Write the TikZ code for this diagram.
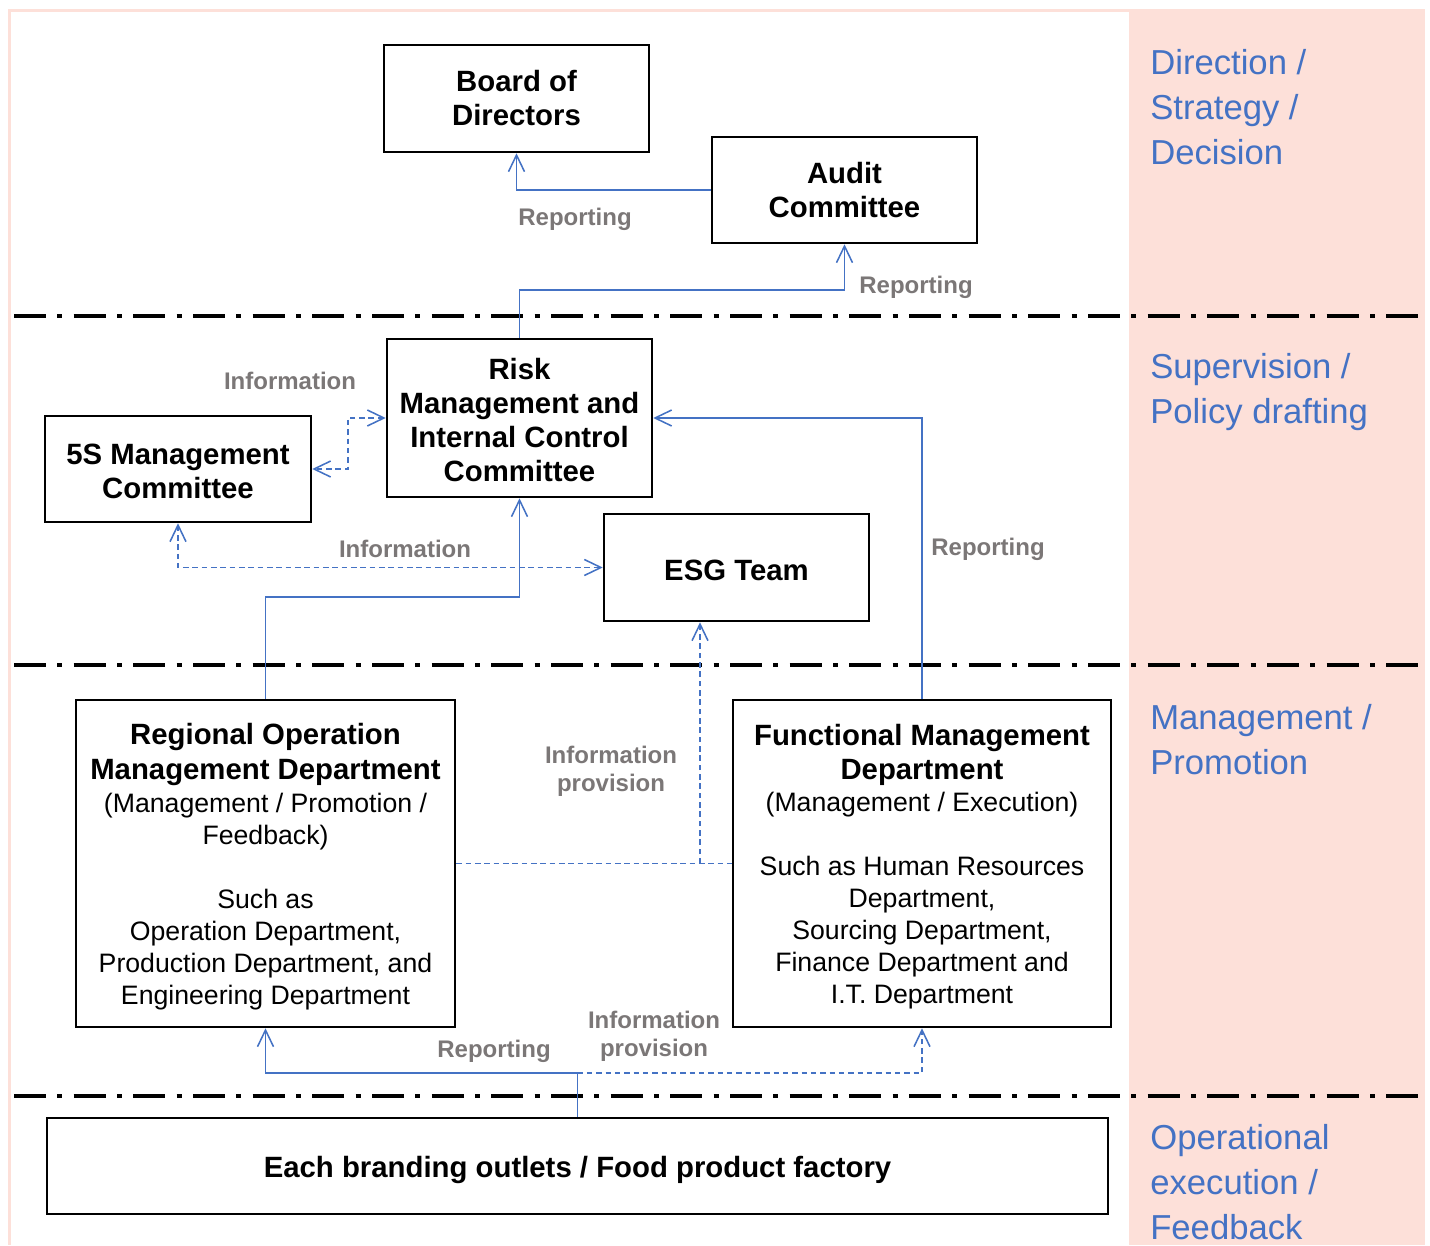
\documentclass[tikz,border=0pt]{standalone}
\usepackage{fontspec}
\setmainfont{Liberation Sans}
\usetikzlibrary{arrows.meta}
\definecolor{cblue}{HTML}{4472C4}
\definecolor{cpink}{HTML}{FDE0D9}
\definecolor{cgray}{HTML}{7B7777}
\begin{document}
\begin{tikzpicture}[x=0.75pt,y=-0.75pt,
  box/.style={draw=black, line width=1.9pt, fill=white, align=center, inner sep=0pt,
    font=\fontsize{22}{25.5}\selectfont\bfseries},
  bigbox/.style={draw=black, line width=1.9pt, fill=white, align=center, inner sep=0pt,
    font=\fontsize{20}{24}\selectfont},
  sz/.style 2 args={minimum width=#1*0.75pt, minimum height=#2*0.75pt},
  conn/.style={draw=cblue, line width=1.15pt},
  dconn/.style={conn, dash pattern=on 4.2pt off 2.8pt},
  tip/.style={-{Straight Barb[length=12.5pt,width=12pt]}},
  bitip/.style={{Straight Barb[length=12.5pt,width=12pt]}-{Straight Barb[length=12.5pt,width=12pt]}},
  lbl/.style={text=cgray, align=center, inner sep=0pt, font=\fontsize{18}{21}\selectfont\bfseries},
  side/.style={text=cblue, align=left, anchor=west, inner sep=0pt, font=\fontsize{26}{33.75}\selectfont},
  sep/.style={draw=black, line width=3pt, dash pattern=on 24pt off 8.5pt on 3.75pt off 8.5pt}
]
\useasboundingbox (0,0) rectangle (1430,1245);
\fill[white] (0,0) rectangle (1430,1245);
\fill[cpink] (1129,10) rectangle (1425,1245);
\draw[cpink, line width=2.2pt] (9.5,1245) -- (9.5,10.5) -- (1425,10.5);

% separators
\draw[sep] (14,316) -- (1422,316);
\draw[sep] (14,665) -- (1422,665);
\draw[sep] (14,1096) -- (1422,1096);

% side labels
\node[side] (s1) at (1150,107) {Direction /\\Strategy /\\Decision};
\node[side] (s2) at (1150,392.5) {Supervision /\\Policy drafting};
\node[side] (s3) at (1150,739.5) {Management /\\Promotion};
\node[side] (s4) at (1150,1182.5) {Operational\\execution /\\Feedback};

% boxes
\node[box, sz={265}{107}] (board) at (516.5,98.5) {Board of\\Directors};
\node[box, sz={265}{106}] (audit) at (844.5,190) {Audit\\Committee};
\node[box, sz={265}{158}] (risk) at (519.5,418) {\rule{0pt}{19pt}Risk\\Management and\\Internal Control\\Committee};
\node[box, sz={266}{106}] (fives) at (178,469) {\rule{0pt}{19pt}5S Management\\Committee};
\node[box, sz={265}{107}] (esg) at (736.5,567.5) {\rule{0pt}{19pt}ESG Team};
\node[bigbox, sz={379}{327}] (reg) at (265.5,863.5) {\rule{0pt}{21.3pt}\textbf{\fontsize{22}{25.5}\selectfont Regional Operation}\\[2pt]
  \textbf{\fontsize{22}{25.5}\selectfont Management Department}\\[1pt]
  (Management / Promotion /\\ Feedback)\\[24pt]
  Such as\\ Operation Department,\\ Production Department, and\\ Engineering Department};
\node[bigbox, sz={378}{327}] (func) at (922,863.5) {\rule{0pt}{20.5pt}\textbf{\fontsize{22}{25.5}\selectfont Functional Management}\\[2pt]
  \textbf{\fontsize{22}{25.5}\selectfont Department}\\
  (Management / Execution)\\[24pt]
  Such as Human Resources\\ Department,\\ Sourcing Department,\\ Finance Department and\\ I.T. Department};
\node[box, sz={1061}{96}] (outlet) at (577.5,1166) {\rule{0pt}{22pt}Each branding outlets / Food product factory};

% connectors
\draw[conn, tip] (audit.west) -| (board.south);
\draw[conn, tip] (risk.north) -- ++(0,-48) -| (audit.south);
\draw[conn, tip] (func.north) |- (risk.east);
\draw[conn, tip] (reg.north) -- ++(0,-102) -| (risk.south);
\draw[dconn, bitip] (risk.west) -- ++(-38,0) |- (fives.east);
\draw[dconn, bitip] (fives.south) |- (esg.west);
\draw[dconn] (reg.east) -- (func.west);
\coordinate (ip) at (700,863.5);
\draw[dconn, tip] (ip) -- (ip |- esg.south);
\coordinate (split) at (577.5,1073);
\draw[conn] (outlet.north) -- (split);
\draw[conn, tip] (split) -| (reg.south);
\draw[dconn, tip] (split) -| (func.south);

% labels
\node[lbl] (l1) at (575,219) {Reporting};
\node[lbl] (l2) at (916,287) {Reporting};
\node[lbl] (l3) at (290,381) {Information};
\node[lbl] (l4) at (405,549) {Information};
\node[lbl] (l5) at (988,549) {Reporting};
\node[lbl] (l6) at (611,771) {Information\\provision};
\node[lbl] (l7) at (494,1051) {Reporting};
\node[lbl] (l8) at (654,1036) {Information\\provision};
\end{tikzpicture}
\end{document}
